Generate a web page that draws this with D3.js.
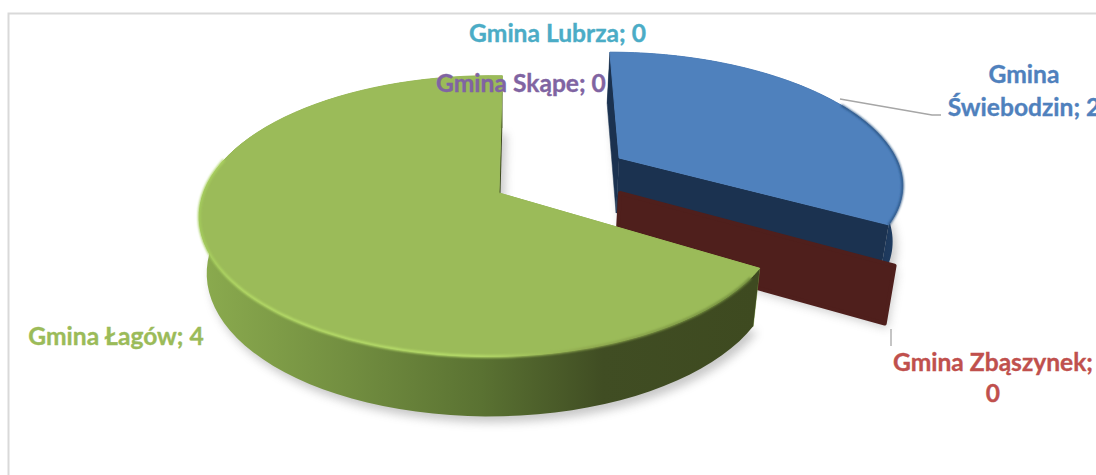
<!DOCTYPE html>
<html><head><meta charset="utf-8">
<script src="https://cdnjs.cloudflare.com/ajax/libs/d3/7.8.5/d3.min.js"></script>
<style>html,body{margin:0;background:#fff;overflow:hidden}svg{display:block}</style>
</head><body><div id="c"></div>
<script>
const categories = ["Gmina Świebodzin","Gmina Zbąszynek","Gmina Łagów","Gmina Skąpe","Gmina Lubrza"];
const values = [2,0,4,0,0];
const topColors = ["#4f81bd","#c0504d","#9bbb59","#8064a2","#4bacc6"];
const wallColors = ["#1b3250","#4f1f1c","#7d9a45","#4a3a60","#2b6a7a"];

const W=1096,H=475;
const svg=d3.select("#c").append("svg").attr("width",W).attr("height",H);
const defs=svg.append("defs");
const blur=(id,s)=>defs.append("filter").attr("id",id).attr("x","-20%").attr("y","-20%").attr("width","140%").attr("height","140%")
  .append("feGaussianBlur").attr("stdDeviation",s);
blur("sh",5);blur("rim",1.1);
const grad=(id,stops,x1,x2)=>{const g=defs.append("linearGradient").attr("id",id).attr("gradientUnits","userSpaceOnUse")
  .attr("x1",x1).attr("x2",x2).attr("y1",0).attr("y2",0);
  stops.forEach(s=>g.append("stop").attr("offset",s[0]).attr("stop-color",s[1]));};
grad("gw",[[0,"#8aaa4e"],[.26,"#728e40"],[.5,"#5a7232"],[.72,"#404d23"],[1,"#3e4a20"]],205,757);
grad("bw",[[0,"#1b3250"],[.8,"#1b3250"],[1,"#1f3d63"]],700,900);
grad("gr",[[0,"#a4cc5c"],[.08,"#b5dc66"],[.5,"#b9e06c"],[.68,"#8fa94e"],[1,"#6f8a3c"]],199,760);

svg.append("rect").attr("x",8.5).attr("y",13.5).attr("width",W+40).attr("height",H+40)
  .attr("fill","#fff").attr("stroke","#d9d9d9").attr("stroke-width",2);

// projection: ground plane with perspective
const cx=499,cy=193,Rx=287,Ry=136.6,k=0.157,D=56,shrink=0.975;
const proj=(u,v,low)=>{const w=1+k*v;
  let x=Rx*u/w,y=-Ry*v/w;
  if(low){x*=shrink;y+=D+(1-w)*25;}
  return [cx+x,cy+y];};

const arcs=d3.pie().sort(null).startAngle(0).endAngle(2*Math.PI)(values);
const line=d3.line();
const rad=Math.PI/180;
// per-slice layout: o apex, c arc centre, rU/rV radii, db end-angle tweak
const layout=[
 {o:[.436,.267],c:[.461,.26],rU:.98,rV:.97,db:0},
 {o:[.4216,0],c:[.4216,0],rU:.982,rV:.982,db:0},
 {o:[0,0],c:[-.03,-.0075],rU:1,rV:1,db:2.5*rad}
];
const arcPts=(L,a0,a1,low)=>d3.range(0,81).map(i=>{const a=a0+(a1-a0)*i/80;
  return proj(L.c[0]+L.rU*Math.sin(a),L.c[1]+L.rV*Math.cos(a),low);});

const gShadow=svg.append("g").attr("filter","url(#sh)").attr("opacity",.36);
const gBlue=svg.append("g"),gRed=svg.append("g"),gGreen=svg.append("g");
const groups=[gBlue,gRed,gGreen];

arcs.slice(0,3).forEach((d,i)=>{
  const L=layout[i],g=groups[i],a0=d.startAngle,a1=d.endAngle+L.db;
  const apexT=proj(L.o[0],L.o[1],false),apexB=proj(L.o[0],L.o[1],true);
  const outerB=arcPts(L,a0,a1,true),outerT=arcPts(L,a0,a1,false);
  const wc=wallColors[i];
  if(d.value===0){
    const pts=[apexT,outerT[0],outerB[0],apexB];
    gShadow.append("path").attr("d",line(pts)+"Z").attr("fill","#777").attr("transform","translate(3,5)");
    g.append("path").attr("d",line(pts)+"Z").attr("fill",wc).attr("stroke",wc).attr("stroke-width",4).attr("stroke-linejoin","round");
    return;
  }
  gShadow.append("path").attr("d",line([apexB,...outerB])+"Z").attr("fill","#666").attr("transform","translate(4,6)");
  g.append("path").attr("d",line([apexT,outerT[0],outerB[0],apexB])+"Z").attr("fill",wc).attr("stroke",wc).attr("stroke-width",.5);
  g.append("path").attr("d",line([...outerT,...outerB.slice().reverse()])+"Z")
    .attr("fill",i===2?"url(#gw)":"url(#bw)").attr("stroke","none");
  g.append("path").attr("d",line([apexT,outerT[80],outerB[80],apexB])+"Z").attr("fill",i===2?"#3e4a20":wc);
  g.append("path").attr("d",line([apexT,...outerT])+"Z").attr("fill",topColors[i])
    .attr("stroke",topColors[i]).attr("stroke-width",1).attr("stroke-linejoin","round");
  if(i===2){
    g.append("path").attr("d",line(arcPts(L,a0+4*rad,a0+165*rad,false))).attr("fill","none")
      .attr("stroke","url(#gr)").attr("stroke-width",2.6).attr("filter","url(#rim)");
  } else {
    g.append("path").attr("d",line(arcPts(L,a0+62*rad,a1,false))).attr("fill","none")
      .attr("stroke","#27507e").attr("stroke-width",2).attr("filter","url(#rim)");
  }
});

const leaders=[[[840,99],[932,115],[941,115]],[[891,329],[891,346]]];
svg.append("g").selectAll("path").data(leaders).join("path").attr("d",d=>line(d))
  .attr("fill","none").attr("stroke","#a6a6a6").attr("stroke-width",1.3);

const labelSpec=[
 {i:0,x:1024,lines:(n,v)=>["Gmina",`Świebodzin; ${v}`],y:[83,116]},
 {i:1,x:993,lines:(n,v)=>[`${n};`,`${v}`],y:[371,402]},
 {i:2,x:116,lines:(n,v)=>[`${n}; ${v}`],y:[345]},
 {i:3,x:521,lines:(n,v)=>[`${n}; ${v}`],y:[92]},
 {i:4,x:557.5,lines:(n,v)=>[`${n}; ${v}`],y:[42]}
];
const gText=svg.append("g").attr("font-family","Lato, sans-serif").attr("font-weight",700)
  .attr("font-size",24.6).attr("text-anchor","middle");
labelSpec.forEach(s=>{
  s.lines(categories[s.i],values[s.i]).forEach((t,j)=>{
    gText.append("text").attr("x",s.x).attr("y",s.y[j]).attr("fill",topColors[s.i])
      .attr("stroke",topColors[s.i]).attr("stroke-width",.35).text(t);
  });
});
</script></body></html>
